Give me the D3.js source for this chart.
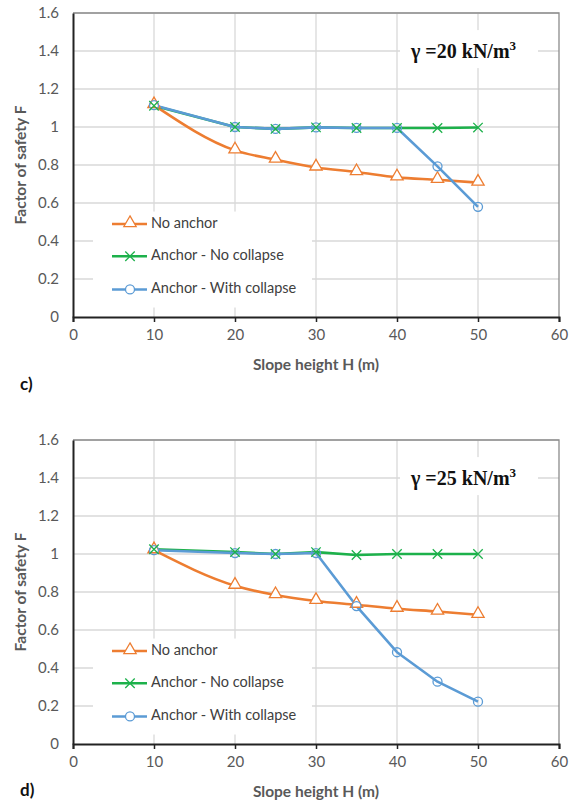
<!DOCTYPE html>
<html>
<head>
<meta charset="utf-8">
<script src="https://cdn.jsdelivr.net/npm/d3@7"></script>
<style>
  body { margin: 0; background: #fff; }
  svg { display: block; }
</style>
</head>
<body>
<div id="chart"></div>
<script>
// slope heights (m)
const heights = [10, 20, 25, 30, 35, 40, 45, 50];

// panel c) gamma = 20 kN/m3
const noAnchorC = [1.115, 0.877, 0.828, 0.787, 0.763, 0.735, 0.722, 0.707];
const noCollapseC = [1.112, 1.0, 0.99, 0.998, 0.995, 0.995, 0.995, 0.997];
const withCollapseC = [1.115, 1.0, 0.99, 0.998, 0.995, 0.995, 0.793, 0.58];

// panel d) gamma = 25 kN/m3
const noAnchorD = [1.02, 0.833, 0.784, 0.753, 0.733, 0.712, 0.697, 0.68];
const noCollapseD = [1.025, 1.01, 1.0, 1.01, 0.995, 1.0, 1.0, 1.0];
const withCollapseD = [1.02, 1.005, 1.0, 1.005, 0.726, 0.483, 0.328, 0.223];

const xTicks = [0, 10, 20, 30, 40, 50, 60];
const yTicks = [0, 0.2, 0.4, 0.6, 0.8, 1, 1.2, 1.4, 1.6];
const seriesNames = ['No anchor', 'Anchor - No collapse', 'Anchor - With collapse'];
const colors = ['#ED7D31', '#1DB14B', '#5B9BD5'];

const W = 575, H = 803;
const svg = d3.select('#chart').append('svg')
    .attr('width', W)
    .attr('height', H);

const font = 'Lato, "Open Sans", sans-serif';
const left = 73, right = 559;
const fs = 14.5;

function panel(top, bottom, a, b, c, gammaText, tag, tagY) {
    const g = svg.append('g');
    const x = d3.scaleLinear().domain([0, 60]).range([left, right]);
    const y = d3.scaleLinear().domain([0, 1.6]).range([bottom, top]);

    // grid
    g.selectAll('.hg').data(yTicks.slice(1)).enter().append('line')
        .attr('x1', left).attr('x2', right)
        .attr('y1', d => y(d)).attr('y2', d => y(d))
        .attr('stroke', '#d9d9d9').attr('stroke-width', 1.3);
    g.selectAll('.vg').data(xTicks.slice(1, -1)).enter().append('line')
        .attr('x1', d => x(d)).attr('x2', d => x(d))
        .attr('y1', top).attr('y2', bottom)
        .attr('stroke', '#d9d9d9').attr('stroke-width', 1.3);

    // border top/right
    g.append('path')
        .attr('d', `M${left},${top}H${right}V${bottom}`)
        .attr('fill', 'none').attr('stroke', '#8c8c8c').attr('stroke-width', 1.3);

    // white boxes (legend + annotation)
    g.append('rect').attr('x', 93).attr('y', y(0.555)).attr('width', 219).attr('height', y(0.05) - y(0.555))
        .attr('fill', '#fff');
    g.append('rect').attr('x', 400).attr('y', y(1.51)).attr('width', 138).attr('height', y(1.31) - y(1.51))
        .attr('fill', '#fff');

    // axes
    const xAxis = g.append('g').attr('transform', `translate(0,${bottom})`)
        .call(d3.axisBottom(x).tickValues(xTicks).tickSize(5).tickPadding(7));
    xAxis.select('.domain').attr('stroke', '#222').attr('stroke-width', 2);
    xAxis.selectAll('line').attr('stroke', '#222').attr('stroke-width', 1.5);
    xAxis.selectAll('text').attr('fill', '#595959').attr('font-size', 15).attr('font-family', font);

    const yAxis = g.append('g').attr('transform', `translate(${left},0)`)
        .call(d3.axisLeft(y).tickValues(yTicks).tickSize(0).tickPadding(14).tickFormat(d3.format('~g')));
    yAxis.select('.domain').attr('stroke', '#222').attr('stroke-width', 2);
    yAxis.selectAll('text').attr('fill', '#595959').attr('font-size', 15).attr('font-family', font);

    // axis titles
    g.append('text')
        .attr('transform', `translate(22,${(top + bottom) / 2}) rotate(-90)`)
        .attr('text-anchor', 'middle').attr('dominant-baseline', 'middle')
        .attr('font-family', font).attr('font-weight', 'bold').attr('font-size', 15.5)
        .attr('fill', '#595959').text('Factor of safety F');
    g.append('text')
        .attr('x', (left + right) / 2).attr('y', bottom + 53)
        .attr('text-anchor', 'middle')
        .attr('font-family', font).attr('font-weight', 'bold').attr('font-size', 15.5)
        .attr('fill', '#595959').text('Slope height H (m)');

    g.append('text')
        .attr('x', 20).attr('y', tagY)
        .attr('font-family', font).attr('font-weight', 'bold').attr('font-size', 17)
        .attr('fill', '#111').text(tag);

    // gamma annotation
    const gt = g.append('text')
        .attr('x', 411).attr('y', y(1.4) + 7)
        .attr('font-family', '"Liberation Serif", "Times New Roman", serif')
        .attr('font-weight', 'bold').attr('font-size', 20).attr('fill', '#111');
    gt.append('tspan').text(gammaText);
    gt.append('tspan').attr('font-size', 13).attr('dy', -8).text('3');

    // lines
    const smooth = d3.line().x((d, i) => x(heights[i])).y(d => y(d)).curve(d3.curveMonotoneX);
    const straight = d3.line().x((d, i) => x(heights[i])).y(d => y(d));
    const sets = [a, b, c];
    sets.forEach((s, k) => {
        g.append('path').datum(s).attr('d', k === 0 ? smooth : straight)
            .attr('fill', 'none').attr('stroke', colors[k]).attr('stroke-width', 2.6)
            .attr('stroke-linejoin', 'round');
    });

    // markers
    const tri = d3.symbol().type(d3.symbolTriangle).size(65);
    g.selectAll('.tri').data(a).enter().append('path')
        .attr('d', tri)
        .attr('transform', (d, i) => `translate(${x(heights[i])},${y(d) - 1})`)
        .attr('fill', '#fff').attr('stroke', colors[0]).attr('stroke-width', 1.3);
    g.selectAll('.circ').data(c).enter().append('circle')
        .attr('cx', (d, i) => x(heights[i])).attr('cy', d => y(d)).attr('r', 4.5)
        .attr('fill', 'none').attr('stroke', colors[2]).attr('stroke-width', 1.3);
    const cross = d3.symbol().type(d3.symbolX).size(60);
    g.selectAll('.x').data(b).enter().append('path')
        .attr('d', cross)
        .attr('transform', (d, i) => `translate(${x(heights[i])},${y(d)})`)
        .attr('fill', 'none').attr('stroke', colors[1]).attr('stroke-width', 1.3);

    // legend
    const ly = [y(0.5) + 2, y(0.32), y(0.145)];
    seriesNames.forEach((name, k) => {
        const row = g.append('g').attr('transform', `translate(0,${ly[k]})`);
        row.append('line').attr('x1', 112).attr('x2', 147)
            .attr('stroke', colors[k]).attr('stroke-width', 2.6);
        if (k === 0) {
            row.append('path').attr('d', tri).attr('transform', 'translate(130,-1)')
                .attr('fill', '#fff').attr('stroke', colors[0]).attr('stroke-width', 1.3);
        } else if (k === 1) {
            row.append('path').attr('d', cross).attr('transform', 'translate(130,0)')
                .attr('fill', 'none').attr('stroke', colors[1]).attr('stroke-width', 1.3);
        } else {
            row.append('circle').attr('cx', 130).attr('cy', 0).attr('r', 4.5)
                .attr('fill', '#fff').attr('stroke', colors[2]).attr('stroke-width', 1.3);
        }
        row.append('text').attr('x', 151).attr('y', 0).attr('dominant-baseline', 'middle')
            .attr('font-family', font).attr('font-size', fs).attr('fill', '#404040').text(name);
    });
}

panel(13, 317, noAnchorC, noCollapseC, withCollapseC, 'γ =20 kN/m', 'c)', 390);
panel(440, 744, noAnchorD, noCollapseD, withCollapseD, 'γ =25 kN/m', 'd)', 796);
</script>
</body>
</html>
